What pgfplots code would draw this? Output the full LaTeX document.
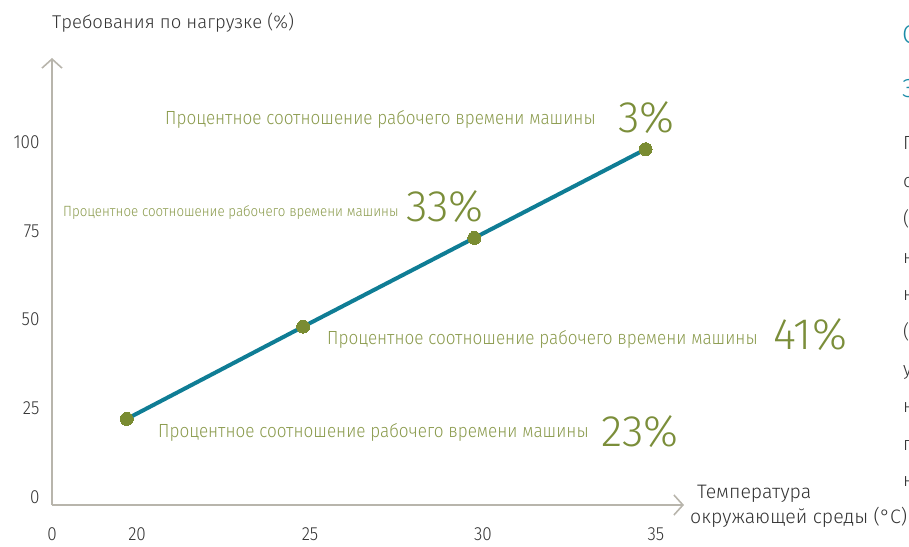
\documentclass[border=0pt]{standalone}
\usepackage{fontspec}
\setmainfont{Fira Sans Light}
\newfontfamily\condfont{Fira Sans Light}[FakeStretch=0.9]
\usepackage{pgfplots}
\pgfplotsset{compat=1.18}
\usetikzlibrary{arrows.meta}
\definecolor{axisgray}{HTML}{B8B5AC}
\definecolor{linecol}{HTML}{0F7D95}
\definecolor{dotcol}{HTML}{7A8C32}
\definecolor{txtgreen}{HTML}{8A9A4C}
\definecolor{numgreen}{HTML}{7B8E3A}
\definecolor{darktxt}{HTML}{333333}
\definecolor{tealtxt}{HTML}{1C8CA8}
\begin{document}
\begin{tikzpicture}[x=1pt,y=1pt]
\useasboundingbox (0,0) rectangle (909,546);
\begin{axis}[
  at={(52pt,41pt)}, anchor=south west,
  scale only axis, width=632pt, height=447pt,
  xmin=17.54, xmax=35.81, ymin=-2.25, ymax=123.7,
  axis lines=left,
  axis line style={axisgray, line width=2pt, -{Straight Barb[length=9pt,width=20pt,line width=1.6pt]}},
  major tick length=0pt,
  xtick={17.54,20,25,30,35}, xticklabels={0,20,25,30,35},
  ytick={0,25,50,75,100},
  tick label style={font=\condfont\fontsize{19}{22}\selectfont, text=darktxt},
  xticklabel style={anchor=north, yshift=-19pt},
  yticklabel style={anchor=east, xshift=-9pt},
  /pgf/number format/assume math mode=true,
  clip=false,
]
\addplot[linecol, line width=4pt, mark=*, mark size=6.5pt, mark options={fill=dotcol, draw=dotcol, line width=0pt}]
  coordinates {(19.7,22) (24.8,48) (29.75,73) (34.7,98)};
\end{axis}
% axis titles
\node[anchor=base west, inner sep=0, text=darktxt, font=\fontsize{18.5}{22}\selectfont] at (52,517) {Требования по нагрузке (\%)};
\node[anchor=base west, inner sep=0, text=darktxt, font=\fontsize{19.5}{22}\selectfont] at (697,48) {Температура};
\node[anchor=base west, inner sep=0, text=darktxt, font=\fontsize{19.5}{22}\selectfont] at (690,23) {окружающей среды (°C)};
% annotations
\node[anchor=base west, inner sep=0, text=txtgreen, font=\condfont\fontsize{19}{22}\selectfont] at (165,421) {Процентное соотношение рабочего времени машины};
\node[anchor=base west, inner sep=0, text=numgreen, font=\fontsize{44}{48}\selectfont] at (618,413) {3\%};
\node[anchor=base west, inner sep=0, text=txtgreen, font=\condfont\fontsize{14.8}{18}\selectfont] at (63,329) {Процентное соотношение рабочего времени машины};
\node[anchor=base west, inner sep=0, text=numgreen, font=\fontsize{44}{48}\selectfont] at (406,324) {33\%};
\node[anchor=base west, inner sep=0, text=txtgreen, font=\condfont\fontsize{19}{22}\selectfont] at (327,201) {Процентное соотношение рабочего времени машины};
\node[anchor=base west, inner sep=0, text=numgreen, font=\fontsize{44}{48}\selectfont] at (773,196) {41\%};
\node[anchor=base west, inner sep=0, text=txtgreen, font=\condfont\fontsize{19}{22}\selectfont] at (158,109) {Процентное соотношение рабочего времени машины};
\node[anchor=base west, inner sep=0, text=numgreen, font=\fontsize{44}{48}\selectfont] at (601,100) {23\%};
% cut-off page text at right edge
\begin{scope}[every node/.style={anchor=base west, inner sep=0, font=\fontsize{19}{22}\selectfont}]
\node[text=tealtxt, font=\fontsize{26}{30}\selectfont] at (902,502) {С};
\node[text=tealtxt, font=\fontsize{26}{30}\selectfont] at (902,448) {З};
\node[text=darktxt] at (903,396) {П};
\node[text=darktxt] at (903,358) {с};
\node[text=darktxt] at (903,320) {(};
\node[text=darktxt] at (903,282) {н};
\node[text=darktxt] at (903,245) {н};
\node[text=darktxt] at (903,207) {(};
\node[text=darktxt] at (903,170) {у};
\node[text=darktxt] at (903,133) {н};
\node[text=darktxt] at (903,96) {п};
\node[text=darktxt] at (903,60) {н};
\end{scope}
\end{tikzpicture}
\end{document}
